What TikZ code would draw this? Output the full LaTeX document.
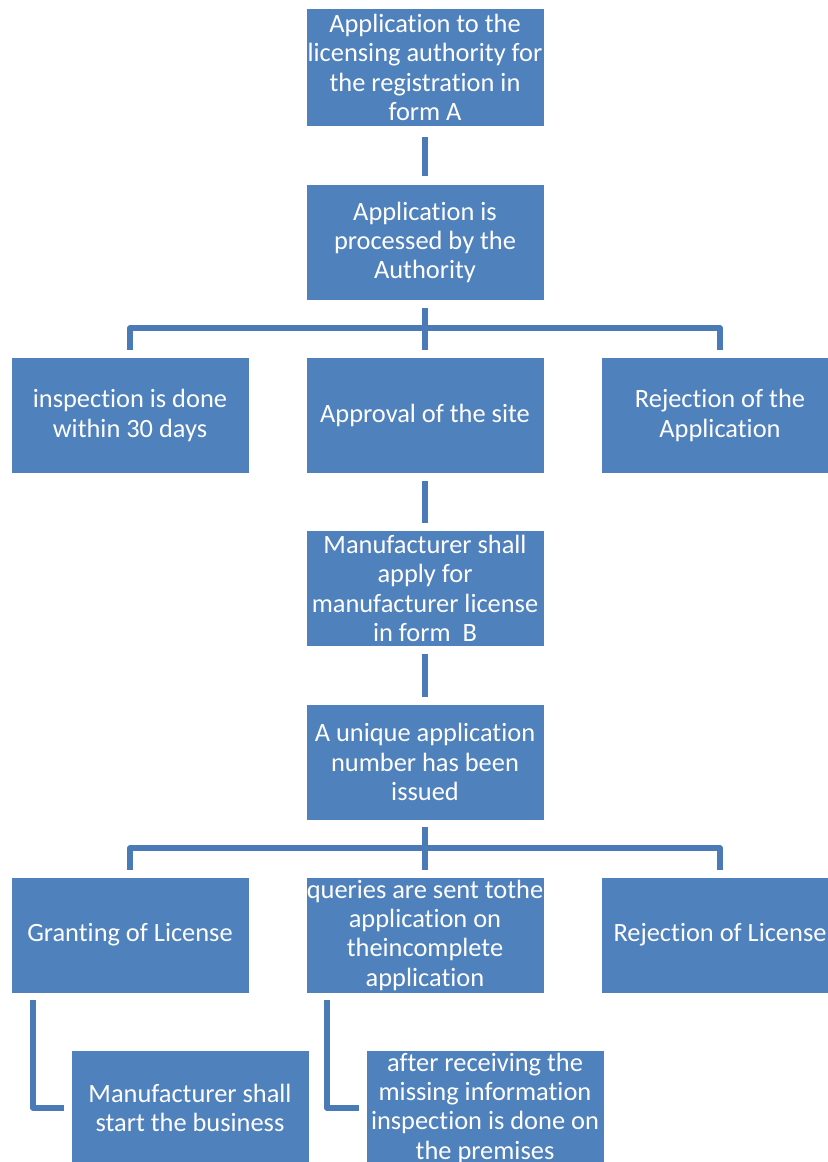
\documentclass[tikz,border=0pt]{standalone}
\usepackage{fontspec}
\setmainfont[Ligatures={NoCommon}]{Carlito}
\definecolor{boxblue}{HTML}{4F81BD}
\definecolor{lineblue}{HTML}{4A7BB7}

\tikzset{
	stepbox/.style={rectangle, fill=boxblue, draw=white, line width=0.6pt, text=white,
		minimum width=178.5pt, minimum height=87pt, align=center,
		font=\fontsize{19.8pt}{22pt}\selectfont, inner sep=0pt},
	conn/.style={draw=lineblue, line width=3.8pt, line join=round},
}

\begin{document}
\begin{tikzpicture}[x=0.75pt, y=-0.75pt]
	\useasboundingbox (0,0) rectangle (827,1162);

	\node[stepbox, minimum height=89pt] (apply) at (425,67.5) {Application to the\\licensing authority for\\the registration in\\form A};
	\node[stepbox] (process) at (425,242.5) {Application is\\processed by the\\Authority};

	\node[stepbox] (inspect) at (130,415.5) {inspection is done\\within 30 days};
	\node[stepbox] (approve) at (425,415.5) {Approval of the site};
	\node[stepbox] (reject) at (720,415.5) {Rejection of the\\Application};

	\node[stepbox] (formb) at (425,588.5) {Manufacturer shall\\apply for\\manufacturer license\\in form~~B};
	\node[stepbox] (number) at (425,762) {A unique application\\number has been\\issued};

	\node[stepbox] (grant) at (130,935) {Granting of License};
	\node[stepbox] (query) at (425,935) {queries are sent tothe\\application on\\theincomplete\\application};
	\node[stepbox] (refuse) at (720,935) {Rejection of License};

	\node[stepbox] (start) at (190,1108) {Manufacturer shall\\start the business};
	\node[stepbox] (premise) at (485,1108) {after receiving the\\missing information\\inspection is done on\\the premises};

	\coordinate (fork1) at (425,328);
	\coordinate (fork2) at (425,848);
	\coordinate (g0) at (33,993);
	\coordinate (q0) at (327,993);

	% straight links
	\draw[conn, shorten <=7pt, shorten >=6pt] (apply) -- (process);
	\draw[conn, shorten <=5pt, shorten >=5pt] (approve) -- (formb);
	\draw[conn, shorten <=5pt, shorten >=5pt] (formb) -- (number);

	% first fork
	\draw[conn, shorten <=5pt] (process) -- (fork1);
	\draw[conn, shorten >=5pt] (fork1) -| (inspect);
	\draw[conn, shorten >=5pt] (fork1) -- (approve);
	\draw[conn, shorten >=5pt] (fork1) -| (reject);

	% second fork
	\draw[conn, shorten <=5pt] (number) -- (fork2);
	\draw[conn, shorten >=5pt] (fork2) -| (grant);
	\draw[conn, shorten >=5pt] (fork2) -- (query);
	\draw[conn, shorten >=5pt] (fork2) -| (refuse);

	% elbows
	\draw[conn, shorten <=5pt, shorten >=5pt] (g0) |- (start);
	\draw[conn, shorten <=5pt, shorten >=5pt] (q0) |- (premise);
\end{tikzpicture}
\end{document}
